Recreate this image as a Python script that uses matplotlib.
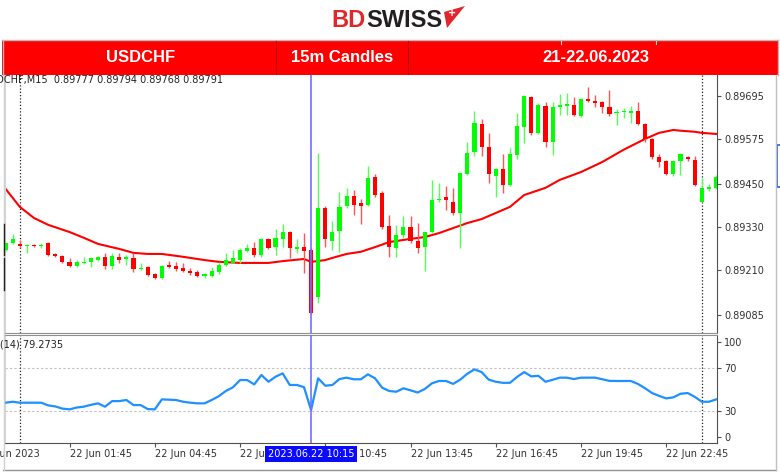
import matplotlib
matplotlib.use('Agg')
import matplotlib.pyplot as plt
import matplotlib.transforms as mtransforms
from matplotlib.patches import Rectangle, Polygon
import numpy as np
import pandas as pd

# ---------------- data ----------------
times = pd.date_range('2023-06-21 23:30', periods=101, freq='15min')

opens = [0.89266,0.89285,0.89282,0.89277,0.89280,0.89277,0.89285,0.89255,0.89249,0.89232,
         0.89221,0.89230,0.89232,0.89238,0.89246,0.89221,0.89246,0.89243,0.89243,0.89213,
         0.89218,0.89199,0.89188,0.89224,0.89221,0.89216,0.89207,0.89204,0.89196,0.89193,
         0.89204,0.89224,0.89230,0.89238,0.89263,0.89271,0.89252,0.89296,0.89274,0.89296,
         0.89316,0.89269,0.89274,0.89266,0.89135,0.89383,0.89291,0.89319,0.89388,0.89416,
         0.89397,0.89391,0.89469,0.89425,0.89333,0.89271,0.89308,0.89330,0.89291,0.89274,
         0.89316,0.89405,0.89413,0.89399,0.89369,0.89477,0.89539,0.89617,0.89553,0.89472,
         0.89491,0.89447,0.89530,0.89608,0.89692,0.89592,0.89667,0.89567,0.89664,0.89667,
         0.89670,0.89639,0.89686,0.89681,0.89678,0.89664,0.89647,0.89650,0.89647,0.89653,
         0.89617,0.89575,0.89525,0.89514,0.89477,0.89514,0.89525,0.89516,0.89399,0.89436,
         0.89438]
highs = [0.89288,0.89310,0.89294,0.89282,0.89282,0.89285,0.89288,0.89257,0.89252,0.89243,
         0.89238,0.89246,0.89246,0.89249,0.89257,0.89257,0.89257,0.89252,0.89257,0.89230,
         0.89221,0.89202,0.89224,0.89235,0.89232,0.89230,0.89216,0.89210,0.89202,0.89218,
         0.89232,0.89257,0.89266,0.89271,0.89282,0.89288,0.89299,0.89299,0.89324,0.89338,
         0.89319,0.89296,0.89313,0.89271,0.89536,0.89388,0.89347,0.89427,0.89438,0.89433,
         0.89409,0.89500,0.89477,0.89430,0.89363,0.89335,0.89360,0.89360,0.89341,0.89316,
         0.89461,0.89452,0.89444,0.89438,0.89480,0.89567,0.89653,0.89631,0.89592,0.89494,
         0.89533,0.89550,0.89647,0.89697,0.89695,0.89675,0.89678,0.89678,0.89700,0.89703,
         0.89692,0.89689,0.89720,0.89697,0.89681,0.89711,0.89658,0.89661,0.89667,0.89678,
         0.89619,0.89578,0.89533,0.89516,0.89516,0.89536,0.89528,0.89528,0.89466,0.89450,
         0.89475]
lows = [0.89263,0.89282,0.89271,0.89257,0.89274,0.89271,0.89249,0.89246,0.89230,0.89218,
        0.89218,0.89227,0.89218,0.89235,0.89213,0.89213,0.89230,0.89224,0.89204,0.89210,
        0.89193,0.89185,0.89185,0.89216,0.89207,0.89204,0.89196,0.89191,0.89188,0.89191,
        0.89199,0.89221,0.89230,0.89230,0.89260,0.89246,0.89246,0.89269,0.89252,0.89274,
        0.89243,0.89257,0.89202,0.89087,0.89118,0.89274,0.89266,0.89260,0.89383,0.89363,
        0.89338,0.89388,0.89413,0.89324,0.89246,0.89246,0.89299,0.89285,0.89257,0.89207,
        0.89313,0.89399,0.89377,0.89363,0.89271,0.89475,0.89528,0.89528,0.89452,0.89413,
        0.89425,0.89444,0.89519,0.89564,0.89586,0.89589,0.89553,0.89530,0.89642,0.89642,
        0.89639,0.89636,0.89678,0.89664,0.89647,0.89639,0.89614,0.89633,0.89619,0.89614,
        0.89567,0.89519,0.89497,0.89475,0.89472,0.89475,0.89514,0.89444,0.89399,0.89430,
        0.89436]
closes = [0.89285,0.89296,0.89277,0.89280,0.89277,0.89280,0.89252,0.89249,0.89232,0.89221,
          0.89232,0.89232,0.89243,0.89246,0.89221,0.89249,0.89238,0.89246,0.89213,0.89216,
          0.89196,0.89188,0.89221,0.89218,0.89213,0.89207,0.89202,0.89193,0.89199,0.89207,
          0.89224,0.89238,0.89243,0.89266,0.89271,0.89252,0.89296,0.89271,0.89299,0.89316,
          0.89271,0.89274,0.89263,0.89090,0.89383,0.89296,0.89316,0.89386,0.89416,0.89391,
          0.89388,0.89466,0.89419,0.89330,0.89274,0.89308,0.89330,0.89291,0.89271,0.89316,
          0.89406,0.89409,0.89405,0.89369,0.89480,0.89536,0.89619,0.89553,0.89477,0.89491,
          0.89447,0.89533,0.89611,0.89695,0.89592,0.89670,0.89567,0.89664,0.89670,0.89672,
          0.89642,0.89686,0.89681,0.89675,0.89664,0.89645,0.89650,0.89653,0.89653,0.89617,
          0.89575,0.89525,0.89511,0.89477,0.89514,0.89533,0.89519,0.89447,0.89438,0.89441,
          0.89469]

ma_idx = [0,2,4,6,9,11,13,16,18,20,22,25,28,30,33,37,39,42,43,45,46,48,50,52,54,57,59,
          61,63,65,67,69,71,73,76,78,81,84,87,90,92,94,95,97,98,100]
ma_val = [0.89436,0.89386,0.89355,0.89336,0.89316,0.89300,0.89283,0.89269,0.89258,0.89255,
          0.89255,0.89247,0.89238,0.89233,0.89230,0.89230,0.89235,0.89241,0.89233,0.89238,
          0.89244,0.89255,0.89261,0.89274,0.89288,0.89297,0.89302,0.89313,0.89327,0.89341,
          0.89352,0.89369,0.89386,0.89419,0.89439,0.89461,0.89483,0.89511,0.89545,0.89575,
          0.89592,0.89600,0.89598,0.89595,0.89592,0.89589]

rsi = [37.5,38.4,37.5,37.5,37.5,37.5,35.0,34.0,32.0,31.3,
       33.0,33.8,35.5,36.9,33.8,39.0,39.0,40.0,35.3,35.3,
       31.6,31.3,40.6,40.3,40.0,38.4,37.5,36.9,36.9,40.0,
       43.5,48.4,51.8,58.6,58.6,54.5,63.3,57.0,61.7,64.8,
       54.0,54.0,52.0,30.7,60.2,53.3,54.0,59.5,60.8,59.3,
       59.3,63.9,60.2,51.5,48.4,47.7,50.9,49.0,47.0,50.2,
       55.5,57.7,57.7,55.0,59.0,64.5,68.5,66.0,59.0,57.0,
       56.0,56.0,61.5,66.0,62.0,62.5,57.0,58.8,60.8,60.8,
       59.5,60.8,60.8,60.8,59.3,57.8,57.7,57.7,57.7,55.0,
       51.0,46.5,43.8,41.5,42.5,45.8,46.5,43.0,38.4,38.4,
       40.5]

price_ticks = [0.89695, 0.89575, 0.89450, 0.89330, 0.89210, 0.89085]
rsi_tick_pos = [94.3, 70, 30, 5.8]
rsi_tick_labels = ['100', '70', '30', '0']
time_tick_idx = [9, 21, 33, 45, 57, 69, 81, 93]
time_tick_labels = ['22 Jun 01:45', '22 Jun 04:45', '22 Jun 07:45', '22 Jun 10:45',
                    '22 Jun 13:45', '22 Jun 16:45', '22 Jun 19:45', '22 Jun 22:45']
first_label = '21 Jun 2023'
first_label_idx = -3
cursor_idx = 43
cursor_label = '2023.06.22 10:15'
day_sep_idx = [2, 98]
info_text = 'USDCHF,M15  0.89777 0.89794 0.89768 0.89791'
rsi_text = 'RSI(14) 79.2735'

# ---------------- figure ----------------
W, H = 780, 473
fig = plt.figure(figsize=(W / 100, H / 100), dpi=100)
fig.patch.set_facecolor('white')

def box(x0, y0, x1, y1):
    return [x0 / W, 1 - y1 / H, (x1 - x0) / W, (y1 - y0) / H]

ov = fig.add_axes([0, 0, 1, 1])
ov.set_xlim(0, W); ov.set_ylim(H, 0); ov.axis('off')

# banner
ov.add_patch(Rectangle((2, 40), 776, 35, facecolor='#ff0000', edgecolor='none'))
ov.plot([2, 778], [40.5, 40.5], color='#b8b8b8', lw=1)
ov.plot([2.5, 2.5], [40, 75], color='#b8b8b8', lw=1)
ov.plot([777.5, 777.5], [40, 75], color='#b8b8b8', lw=1)
for xs in [276, 408]:
    ov.plot([xs, xs], [41, 75], color='#c00000', lw=0.8)
for xs in [561, 656]:
    ov.plot([xs, xs], [41, 44], color='#d0d0d0', lw=0.8)
hfont = dict(color='white', fontsize=12, fontweight='bold', family='Liberation Sans',
             ha='center', va='center')
ov.text(141, 58, 'USDCHF', **hfont)
ov.text(342, 58, '15m Candles', **hfont)
ov.text(596, 58, '21-22.06.2023', **hfont)

# logo
ov.text(366, 27, 'BD', color='#e3262d', fontsize=17, fontweight='bold',
        family='Liberation Sans', ha='right', va='baseline')
ov.text(366, 27, 'SWISS', color='#231f20', fontsize=17, fontweight='bold',
        family='Liberation Sans', ha='left', va='baseline')
ov.add_patch(Polygon([(444, 12), (465, 6), (447, 28)], closed=True,
                     facecolor='#e3262d', edgecolor='none'))
ov.text(452, 13, '+', color='white', fontsize=7, fontweight='bold', ha='center', va='center')

# ---------------- price panel ----------------
xlim = (-0.085, 100.14)
x = np.arange(len(opens))
o = np.array(opens); h = np.array(highs); l = np.array(lows); c = np.array(closes)
up = c >= o
cols = np.where(up, '#00ff00', '#ff0000')
wick_cols = np.where(up, '#55ff55', '#ff5555')

axp = fig.add_axes(box(5, 75, 717, 333))
axp.set_xlim(*xlim)
axp.set_ylim(0.89035, 0.89753)
axp.plot(ma_idx, ma_val, color='#ff0000', lw=1.5, zorder=2)
axp.vlines(x, l, h, colors=wick_cols, lw=1.0, zorder=3)
body_h = np.maximum(np.abs(c - o), 0.000045)
body_b = np.minimum(o, c) - np.where(np.abs(c - o) < 0.000045, 0.00001, 0)
axp.bar(x, body_h, bottom=body_b, width=0.58, color=cols, edgecolor='none', zorder=4)

axp.yaxis.tick_right()
axp.set_yticks(price_ticks, labels=[f'{v:.5f}' for v in price_ticks])
axp.tick_params(axis='y', direction='out', length=3, width=0.8, colors='#505050',
                labelcolor='#303030', labelsize=7, pad=2)
axp.set_xticks([])
axp.spines['top'].set_visible(False)
axp.spines['left'].set_color('#d8d8d8')
axp.spines['right'].set_color('#505050')
axp.spines['bottom'].set_color('#909090')

# ---------------- RSI panel ----------------
axr = fig.add_axes(box(5, 335, 717, 443))
axr.set_xlim(*xlim)
axr.set_ylim(0, 100.5)
axr.axhline(70, color='#c0c0c0', ls=(0, (2, 2)), lw=0.8, zorder=1)
axr.axhline(30, color='#c0c0c0', ls=(0, (2, 2)), lw=0.8, zorder=1)
axr.plot(x, rsi, color='#1e90ff', lw=1.6, zorder=3)
axr.yaxis.tick_right()
axr.set_yticks(rsi_tick_pos, labels=rsi_tick_labels)
axr.tick_params(axis='y', direction='out', length=3, width=0.8, colors='#505050',
                labelcolor='#303030', labelsize=7, pad=2)
axr.set_xticks(time_tick_idx, labels=time_tick_labels, ha='left')
axr.tick_params(axis='x', direction='out', length=3, width=0.8, colors='#505050',
                labelcolor='#303030', labelsize=7, pad=1.5)
axr.spines['top'].set_color('#909090')
axr.spines['left'].set_color('#d8d8d8')
axr.spines['right'].set_color('#505050')
axr.spines['bottom'].set_color('#505050')

lab_tr = mtransforms.offset_copy(axr.get_xaxis_transform(), fig=fig, y=-4.5, units='points')
first_tr = mtransforms.offset_copy(axr.get_xaxis_transform(), fig=fig, x=-2.5, y=-4.5,
                                   units='points')
axr.text(first_label_idx, 0, first_label, transform=first_tr, ha='left', va='top',
         fontsize=7, color='#303030', clip_on=False)
axr.text(cursor_idx, 0, cursor_label, transform=lab_tr, ha='center', va='top',
         fontsize=7, color='white', clip_on=False, zorder=10,
         bbox=dict(facecolor='#0a0aff', edgecolor='none', pad=2.0))

# separators & cursor
for ax in (axp, axr):
    for d in day_sep_idx:
        ax.axvline(d, color='#202020', ls=(0, (1, 1.6)), lw=0.9, zorder=1)
    ax.axvline(cursor_idx, color='#7070ff', lw=1.4, alpha=0.85, zorder=6)

# text overlays
top = fig.add_axes([0, 0, 1, 1], zorder=10)
top.set_xlim(0, W); top.set_ylim(H, 0); top.axis('off')
top.patch.set_alpha(0)
top.text(-17, 80.5, info_text, fontsize=7, color='#202020', ha='left', va='center')
top.text(-16, 344, rsi_text, fontsize=7, color='#202020', ha='left', va='center')
top.plot([3, 776], [470, 470], color='#909090', lw=1)
top.plot([3.5, 3.5], [75, 470], color='#d0d0d0', lw=1)
top.plot([3.5, 3.5], [224, 255], color='#202020', lw=1)
top.plot([3.5, 3.5], [258, 290], color='#202020', lw=1)
top.plot([776, 776], [75, 470], color='#c0c0c0', lw=1)
top.add_patch(Rectangle((776.5, 145), 6, 42, facecolor='none', edgecolor='#2060d0', lw=1.2))

fig.savefig('out.png', dpi=100, facecolor='white')
